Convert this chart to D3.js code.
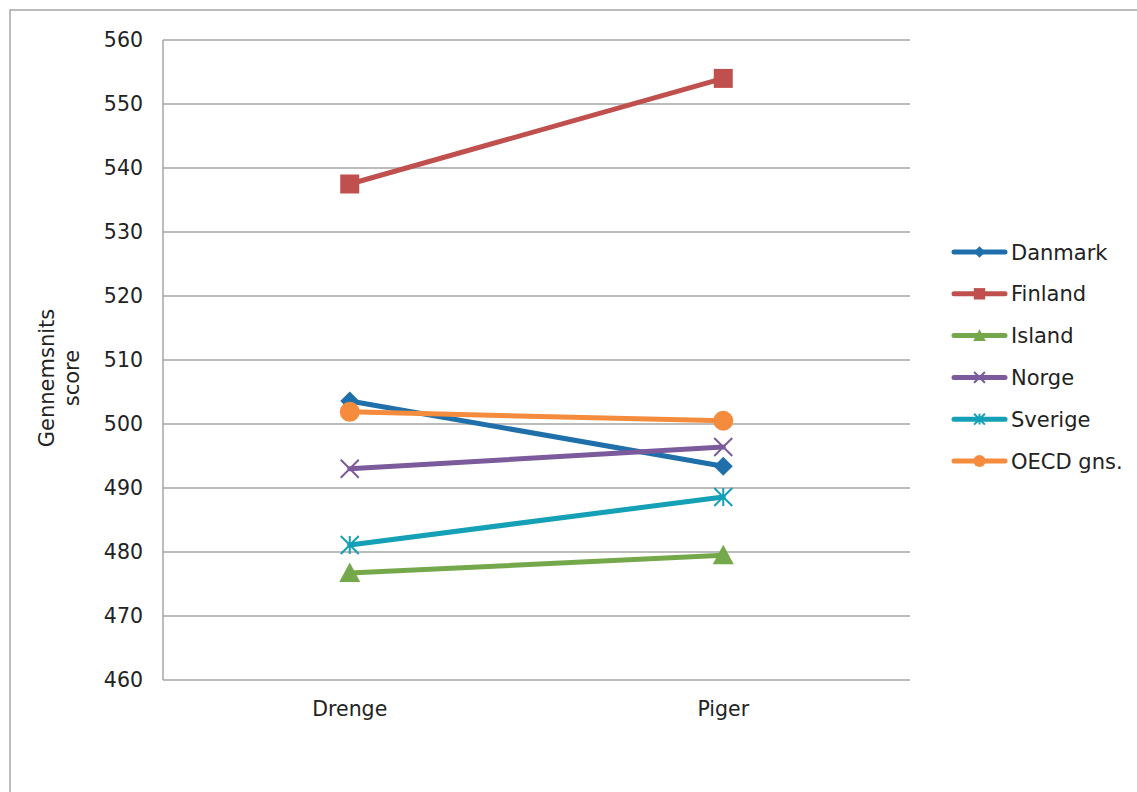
<!DOCTYPE html>
<html><head><meta charset="utf-8">
<script src="https://cdn.jsdelivr.net/npm/d3@7"></script>
<style>body{margin:0;background:#fff}svg{display:block;font-family:"DejaVu Sans",Verdana,sans-serif}</style>
</head><body>
<svg id="c" width="1137" height="792"></svg>
<script>
const categories = ["Drenge", "Piger"];
const seriesNames = ["Danmark", "Finland", "Island", "Norge", "Sverige", "OECD gns."];
const danmark = [503.6, 493.4];
const finland = [537.5, 554.0];
const island = [476.7, 479.5];
const norge = [493.0, 496.4];
const sverige = [481.1, 488.6];
const oecd = [501.9, 500.5];
const yTicks = [460, 470, 480, 490, 500, 510, 520, 530, 540, 550, 560];
const colors = ["#1F6FAB", "#C0504D", "#74A84A", "#7B5B9C", "#14A0B6", "#F58B3C"];
const markers = ["diamond", "square", "triangle", "x", "star", "circle"];
const values = [danmark, finland, island, norge, sverige, oecd];

const svg = d3.select("#c");
svg.append("rect").attr("x",10).attr("y",10).attr("width",1200).attr("height",900)
  .attr("fill","none").attr("stroke","#A6A6A6").attr("stroke-width",1.5);

const L=163, R=910, T=40, B=680;
const x = d3.scaleBand().domain(categories).range([L,R]);
const y = d3.scaleLinear().domain([460,560]).range([B,T]);

// gridlines
svg.append("g").selectAll("line").data(yTicks).join("line")
  .attr("x1",L).attr("x2",R).attr("y1",d=>y(d)).attr("y2",d=>y(d))
  .attr("stroke","#A6A6A6").attr("stroke-width",1.5);
svg.append("line").attr("x1",L).attr("x2",L).attr("y1",T).attr("y2",B).attr("stroke","#A6A6A6").attr("stroke-width",1.5);

const yAxis = svg.append("g").attr("transform",`translate(${L},0)`)
  .call(d3.axisLeft(y).tickValues(yTicks).tickSize(0).tickPadding(20));
yAxis.select(".domain").remove();
yAxis.selectAll("text").attr("font-size",20.5).attr("fill","#222").attr("font-family","DejaVu Sans");

const xAxis = svg.append("g").attr("transform",`translate(0,${B})`)
  .call(d3.axisBottom(x).tickSize(0).tickPadding(21));
xAxis.select(".domain").remove();
xAxis.selectAll("text").attr("font-size",20.5).attr("fill","#222").attr("font-family","DejaVu Sans");

// y title
const yt = svg.append("text").attr("transform","translate(57,378) rotate(-90)")
  .attr("text-anchor","middle").attr("font-size",21).attr("fill","#222");
yt.append("tspan").attr("x",0).attr("dy","-0.15em").text("Gennemsnits");
yt.append("tspan").attr("x",0).attr("dy","1.2em").text("score");

function drawMarker(g, type, cx, cy, color, s) {
  s = s || 1;
  if (type==="diamond") {
    const r=9.5*s;
    g.append("path").attr("d",`M${cx},${cy-r}L${cx+r},${cy}L${cx},${cy+r}L${cx-r},${cy}Z`).attr("fill",color);
  } else if (type==="square") {
    const h=9.5*s;
    g.append("rect").attr("x",cx-h).attr("y",cy-h).attr("width",2*h).attr("height",2*h).attr("fill",color);
  } else if (type==="triangle") {
    const h=10.5*s;
    g.append("path").attr("d",`M${cx},${cy-h}L${cx+h},${cy+h*0.85}L${cx-h},${cy+h*0.85}Z`).attr("fill",color);
  } else if (type==="circle") {
    g.append("circle").attr("cx",cx).attr("cy",cy).attr("r",10*s).attr("fill",color);
  } else if (type==="x") {
    const h=9*s;
    g.append("path").attr("d",`M${cx-h},${cy-h}L${cx+h},${cy+h}M${cx-h},${cy+h}L${cx+h},${cy-h}`).attr("stroke",color).attr("stroke-width",2);
  } else if (type==="star") {
    const h=9*s;
    g.append("path").attr("d",`M${cx-h},${cy-h}L${cx+h},${cy+h}M${cx-h},${cy+h}L${cx+h},${cy-h}M${cx},${cy-h}L${cx},${cy+h}`).attr("stroke",color).attr("stroke-width",2);
  }
}

const line = d3.line().x((d,i)=>x(categories[i])+x.bandwidth()/2).y(d=>y(d));
const plot = svg.append("g");
values.forEach((vals,k)=>{
  plot.append("path").datum(vals).attr("d",line).attr("fill","none")
    .attr("stroke",colors[k]).attr("stroke-width",5).attr("stroke-linecap","round");
});
values.forEach((vals,k)=>{
  vals.forEach((v,i)=>drawMarker(plot, markers[k], x(categories[i])+x.bandwidth()/2, y(v), colors[k], 1));
});

// legend
const lg = svg.append("g");
seriesNames.forEach((n,k)=>{
  const cy = 252 + k*41.8;
  lg.append("line").attr("x1",954).attr("x2",1005).attr("y1",cy).attr("y2",cy)
    .attr("stroke",colors[k]).attr("stroke-width",5).attr("stroke-linecap","round");
  drawMarker(lg, markers[k], 979.5, cy, colors[k], 0.6);
  lg.append("text").attr("x",1011).attr("y",cy).attr("dy","0.36em").attr("font-size",21).attr("fill","#222").text(n);
});
</script>
</body></html>
